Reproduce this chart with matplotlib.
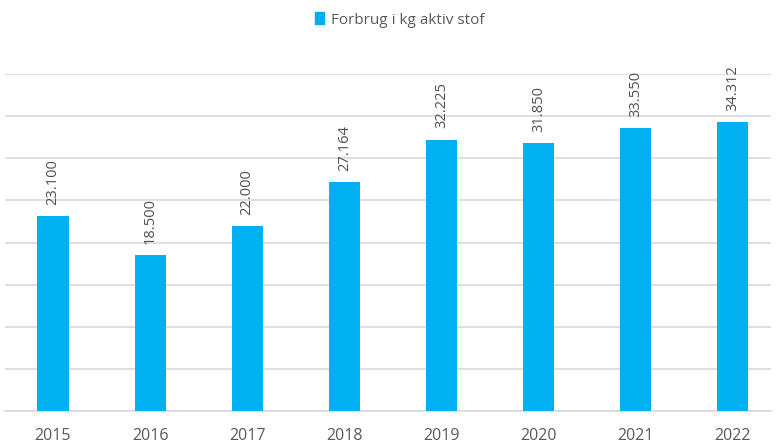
import matplotlib.pyplot as plt
from matplotlib.patches import Patch

years = ['2015', '2016', '2017', '2018', '2019', '2020', '2021', '2022']
values = [23100, 18500, 22000, 27164, 32225, 31850, 33550, 34312]
series_name = 'Forbrug i kg aktiv stof'

bar_color = '#00b0f0'
text_color = '#595959'

plt.rcParams['font.family'] = ['Open Sans', 'DejaVu Sans']

fig = plt.figure(figsize=(7.76, 4.45), dpi=100)
ax = fig.add_axes([5/776, 34/445, 766/776, 337/445])

x = range(len(years))
ax.bar(x, values, width=0.32, color=bar_color, zorder=3)

for xi, v in zip(x, values):
    ax.annotate(f'{v:,}'.replace(',', '.'), xy=(xi, v), xytext=(0, 8),
                textcoords='offset points', rotation=90, ha='center', va='bottom',
                fontsize=10.5, color='#505050')

ax.set_xlim(-0.494, 7.395)
ax.set_ylim(0, 40000)
ax.set_yticks(range(0, 40001, 5000))
ax.yaxis.grid(True, color='#d9d9d9', linewidth=1.2, zorder=0)
ax.tick_params(axis='y', left=False, labelleft=False)
ax.set_xticks(list(x))
ax.set_xticklabels(years, fontsize=11.5, color=text_color)
ax.tick_params(axis='x', length=0, pad=12)
for s in ['top', 'right', 'left']:
    ax.spines[s].set_visible(False)
ax.spines['bottom'].set_color('#d9d9d9')
ax.spines['bottom'].set_linewidth(1.2)

fig.legend(handles=[Patch(color=bar_color, label=series_name)],
           loc='center', bbox_to_anchor=(0.515, 0.955), frameon=False,
           fontsize=11, labelcolor=text_color, handlelength=0.6, handleheight=0.8,
           handletextpad=0.4)

fig.savefig('out.png', dpi=100)
